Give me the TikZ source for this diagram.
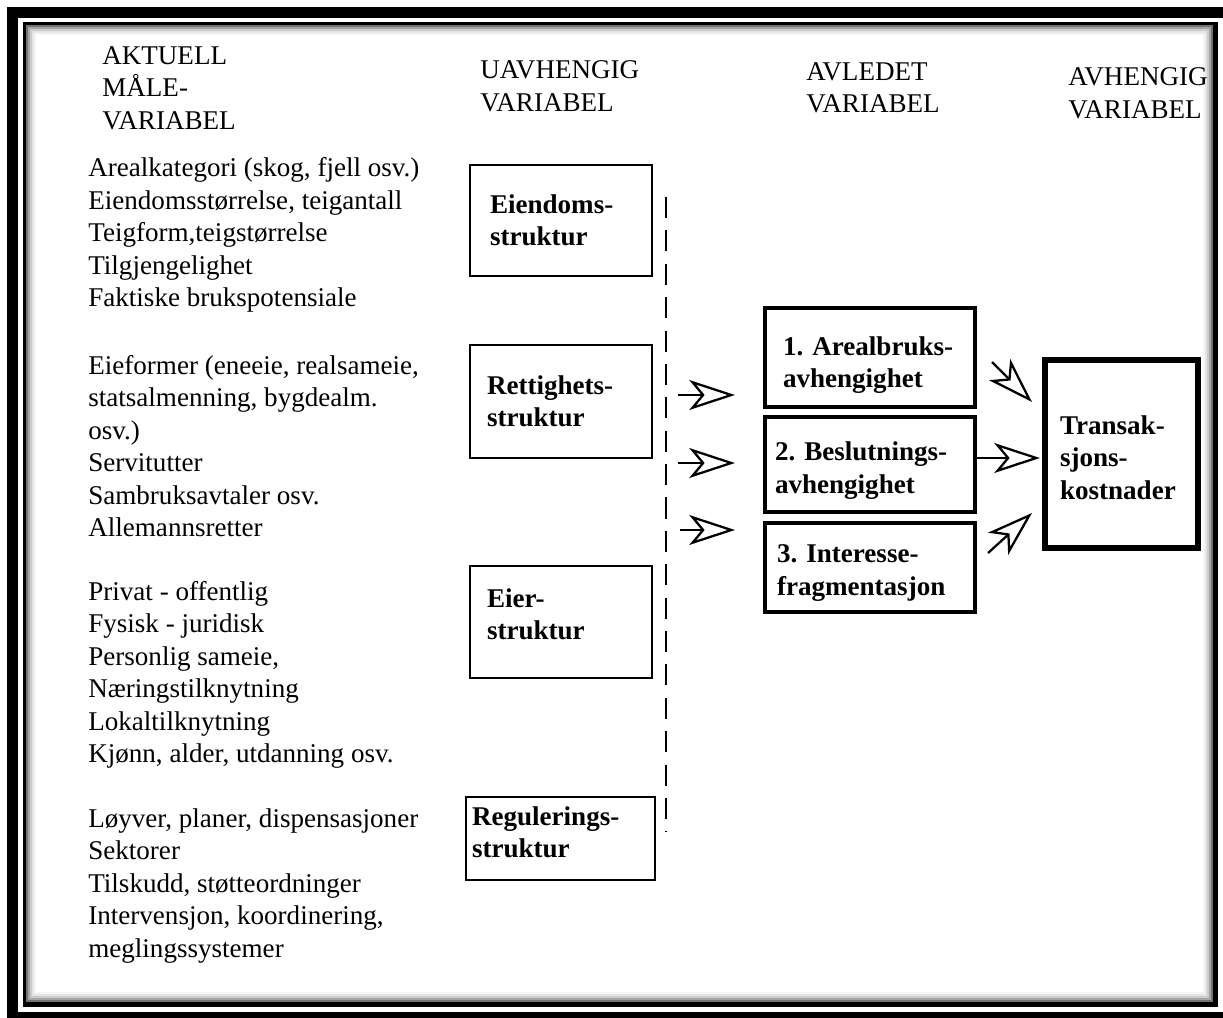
\documentclass[tikz,border=0pt]{standalone}
\usepackage{fontspec}
\setmainfont{Liberation Serif}
\usetikzlibrary{arrows.meta}

\begin{document}
\begin{tikzpicture}[x = 0.02cm, y = -0.02cm,
                        txt/.style = {anchor = west, align = left, inner sep = 0pt, font = \fontsize{15.4}{18.5}\selectfont},
                        bold/.style = {align = left, inner ysep = 0pt, font = \bfseries\fontsize{15.4}{18.5}\selectfont,
                                       execute at begin node = {\hyphenpenalty = 10000 \exhyphenpenalty = 10000 \hbadness = 10000 \hfuzz = 100pt}},
                        lift/.style = {execute at end node = {\endgraf\vspace*{#1}}},
                        ubox/.style = {bold, draw, line width = 1.1pt},
                        dbox/.style = {bold, draw, line width = 2.3pt, minimum width = 4.2cm},
                        tbox/.style = {bold, draw, line width = 3.6pt},
                        arr/.style = {line width = 1.3pt, -{Stealth[open, length = 26pt, width = 17pt, inset = 7pt]}}]
      \useasboundingbox (0, 0) rectangle (1223, 1017);
      \fill (7, 7) rectangle (1240, 1040);
      \fill [white] (18, 18) rectangle (1240, 1012);
      \fill (23, 22) rectangle (1218, 1007);
      \fill [white] (26, 25) rectangle (1213, 1002);
      \foreach \d/\c in {0/55, 2/35, 4/20, 6/10, 8/4}
        \draw [black!\c, line width = 0.04cm] ({27 + \d}, {26 + \d}) rectangle ({1212 - \d}, {1001 - \d});

      \node [txt] (h1) at (102, 88) {AKTUELL\\MÅLE-\\VARIABEL};
      \node [txt] (h2) at (480, 86) {UAVHENGIG\\VARIABEL};
      \node [txt] (h3) at (806, 88) {AVLEDET\\VARIABEL};
      \node [txt] (h4) at (1068, 93) {AVHENGIG\\VARIABEL};

      \node [txt] (m1) at (88, 235) {Arealkategori (skog, fjell osv.)\\Eiendomsstørrelse, teigantall\\Teigform,teigstørrelse\\Tilgjengelighet\\Faktiske brukspotensiale};
      \node [txt] (m2) at (88, 446) {Eieformer (eneeie, realsameie,\\statsalmenning, bygdealm.\\osv.)\\Servitutter\\Sambruksavtaler osv.\\Allemannsretter};
      \node [txt] (m3) at (88, 675) {Privat - offentlig\\Fysisk - juridisk\\Personlig sameie,\\Næringstilknytning\\Lokaltilknytning\\Kjønn, alder, utdanning osv.};
      \node [txt] (m4) at (88, 886) {Løyver, planer, dispensasjoner\\Sektorer\\Tilskudd, støtteordninger\\Intervensjon, koordinering,\\meglingssystemer};

      \node [ubox, minimum height = 2.22cm, inner xsep = 0.4cm, text width = 2.84cm] (eiendom) at (561, 220.5) {Eiendoms-\\struktur};
      \node [ubox, minimum height = 2.26cm, inner xsep = 0.34cm, text width = 2.96cm] (rettighet) at (561, 401.5) {Rettighets-\\struktur};
      \node [ubox, lift = 9pt, minimum height = 2.24cm, inner xsep = 0.34cm, text width = 2.96cm] (eier) at (561, 622) {Eier-\\struktur};
      \node [ubox, lift = 7pt, minimum height = 1.66cm, inner xsep = 0.12cm, text width = 3.54cm] (regulering) at (560.5, 838.5) {Regulerings-\\struktur};

      \node [dbox, lift = -8.5pt, minimum height = 1.98cm, inner xsep = 0.36cm, text width = 3.48cm] (d1) at (870, 357.5) {1.~Arealbruks-\\avhengighet};
      \node [dbox, lift = -7pt, minimum height = 1.9cm, inner xsep = 0.2cm, text width = 3.8cm] (d2) at (870, 464.5) {2.~Beslutnings-\\avhengighet};
      \node [dbox, lift = -6pt, minimum height = 1.78cm, inner xsep = 0.24cm, text width = 3.72cm] (d3) at (870, 567.5) {3.~Interesse-\\fragmentasjon};

      \node [tbox, lift = -4pt, minimum height = 3.76cm, inner xsep = 0.3cm, text width = 2.46cm] (tk) at (1121.5, 454) {Transak-\\sjons-\\kostnader};

      \draw [line width = 1.6pt, dash pattern = on 12pt off 7pt] (666, 197) -- (666, 832);

      \coordinate (s1) at (678, 395);
      \coordinate (s2) at (678, 463);
      \coordinate (s3) at (680, 530);
      \draw [arr, shorten >= 0.56cm] (s1) -- (s1 -| d1.west);
      \draw [arr, shorten >= 0.56cm] (s2) -- (s2 -| d2.west);
      \draw [arr, shorten >= 0.56cm] (s3) -- (s3 -| d3.west);

      \coordinate (r1) at (992, 362);
      \coordinate (e1) at (1032, 402);
      \coordinate (e2) at (1040, 458);
      \coordinate (r3) at (988, 553);
      \coordinate (e3) at (1032, 513);
      \draw [arr] (r1) -- (e1);
      \draw [arr] (d2.east |- e2) -- (e2);
      \draw [arr] (r3) -- (e3);
    \end{tikzpicture}
\end{document}
